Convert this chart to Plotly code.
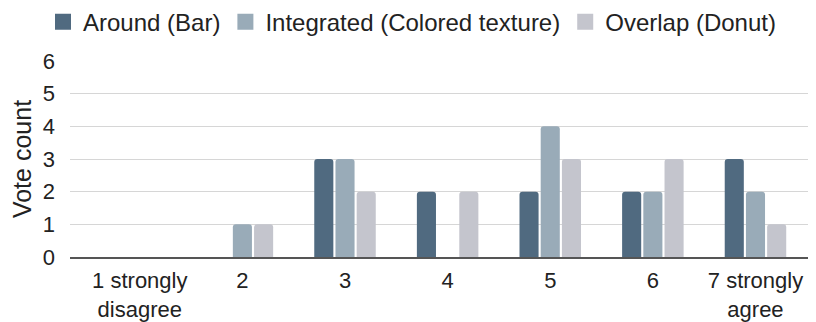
import plotly.graph_objects as go

categories = ["1 strongly<br>disagree", "2", "3", "4", "5", "6", "7 strongly<br>agree"]
around_bar = [0, 0, 3, 2, 2, 2, 3]
integrated_texture = [0, 1, 3, 0, 4, 2, 2]
overlap_donut = [0, 1, 2, 2, 3, 3, 1]

series = [
    ("Around (Bar)", around_bar, "#506a80"),
    ("Integrated (Colored texture)", integrated_texture, "#99abb8"),
    ("Overlap (Donut)", overlap_donut, "#c4c5cd"),
]

FONT = "Liberation Sans, Arial, sans-serif"
x_pos = list(range(len(categories)))

fig = go.Figure()
for name, values, color in series:
    fig.add_trace(
        go.Bar(
            x=x_pos,
            y=values,
            name=name,
            legendgroup=name,
            showlegend=False,
            marker_color=color,
            marker_line_width=0,
        )
    )
    # bigger square swatch for the legend
    fig.add_trace(
        go.Scatter(
            x=[None],
            y=[None],
            mode="markers",
            name=name,
            legendgroup=name,
            marker=dict(symbol="square", size=16, color=color),
        )
    )

# page body has an 8px margin, so the figure is a bit smaller than the window
fig.update_layout(
    width=808,
    height=314,
    margin=dict(l=62, r=1, t=53, b=65, autoexpand=False),
    plot_bgcolor="white",
    paper_bgcolor="white",
    font=dict(family=FONT, size=22, color="#222222"),
    barmode="group",
    bargap=0.38,
    bargroupgap=0.1,
    barcornerradius=3,
    legend=dict(
        orientation="h",
        xref="container",
        yref="container",
        x=0.5,
        xanchor="center",
        y=0.955,
        yanchor="middle",
        font=dict(size=24),
        itemwidth=30,
    ),
)
fig.update_xaxes(
    tickmode="array",
    tickvals=x_pos,
    ticktext=categories,
    range=[-0.68, 6.58],
    showline=True,
    linecolor="#555555",
    linewidth=1.5,
    ticks="",
    showgrid=False,
    automargin=False,
    ticklabelstandoff=3,
)
fig.update_yaxes(
    range=[0, 6],
    dtick=1,
    showgrid=True,
    gridcolor="#d6d6d6",
    gridwidth=1,
    zeroline=False,
    automargin=False,
    ticklabelstandoff=14,
    title=dict(text="Vote count", standoff=6, font=dict(size=25)),
    tickfont=dict(size=22),
)

fig.write_html("out.html")
